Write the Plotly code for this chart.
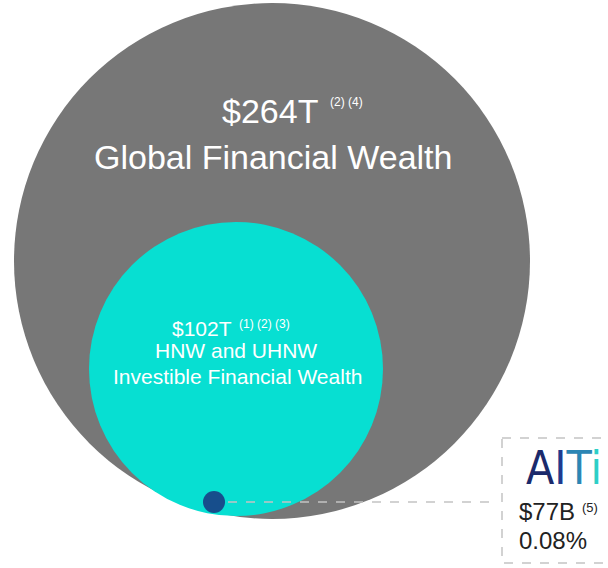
import plotly.graph_objects as go

# ---- data ----
circle_names = ["Global Financial Wealth", "HNW and UHNW Investible Financial Wealth", "AITi"]
circle_values = ["$264T", "$102T", "$77B"]
circle_notes = ["(2) (4)", "(1) (2) (3)", "(5)"]
aiti_share = "0.08%"

# ---- layout geometry (pixels) ----
W, H = 608, 568
geom = [  # cx, cy, r
    (272, 261, 258),
    (236, 369, 147),
    (214, 502, 11),
]
colors = ["#777777", "#07DFD2", "#174E8C"]

fig = go.Figure()
fig.add_trace(go.Scatter(x=[0, W], y=[0, H], mode="markers", marker=dict(opacity=0), hoverinfo="skip", showlegend=False))

for (cx, cy, r), c in zip(geom, colors):
    fig.add_shape(type="circle", xref="x", yref="y", x0=cx - r, x1=cx + r, y0=cy - r, y1=cy + r,
                  fillcolor=c, line=dict(width=0), layer="above")

# leader line and box
fig.add_shape(type="line", xref="x", yref="y", x0=228, x1=494, y0=502, y1=502,
              line=dict(color="#c4c4c4", width=1.5, dash="dash"), layer="above")
fig.add_shape(type="rect", xref="x", yref="y", x0=502, x1=625, y0=438, y1=563,
              line=dict(color="#c4c4c4", width=1.5, dash="dash"), fillcolor="rgba(0,0,0,0)", layer="above")

FONT = "Liberation Sans, Arial, sans-serif"

def ann(x, y, text, size, color="white", xanchor="center", family=FONT):
    fig.add_annotation(x=x, y=y, xref="x", yref="y", text=text, showarrow=False,
                       font=dict(family=family, size=size, color=color), xanchor=xanchor, yanchor="middle")

# gray circle text
ann(270, 111, circle_values[0], 34)
ann(328, 102, circle_notes[0], 12, xanchor="left")
ann(273, 157, circle_names[0], 34)

# teal circle text
ann(202, 328, circle_values[1], 21)
ann(237, 324, circle_notes[1], 12, xanchor="left")
ann(236, 350, "HNW and UHNW", 21)
ann(237, 376, "Investible Financial Wealth", 21)

# AITi box
logo = ("<span style='color:#1B2A6B'>A</span><span style='color:#1F3A8F'>I</span>"
        "<span style='color:#2C86B4'>T</span><span style='color:#2DCFC6'>i</span>")
ann(564, 468, logo, 46, family="Liberation Sans Narrow, DejaVu Sans Condensed, Arial Narrow, sans-serif")
ann(547, 511, circle_values[2], 24, color="#222222")
ann(580, 507, circle_notes[2], 13, color="#222222", xanchor="left")
ann(553, 540, aiti_share, 24, color="#222222")

fig.update_xaxes(range=[0, W], visible=False, fixedrange=True)
fig.update_yaxes(range=[H, 0], visible=False, fixedrange=True)
fig.update_layout(width=W, height=H, margin=dict(l=0, r=0, t=0, b=0), autosize=False,
                  plot_bgcolor="white", paper_bgcolor="white", showlegend=False)

fig.write_html("out.html", config={"displayModeBar": False},
               post_script="document.body.style.margin='0';document.body.style.overflow='hidden';")
